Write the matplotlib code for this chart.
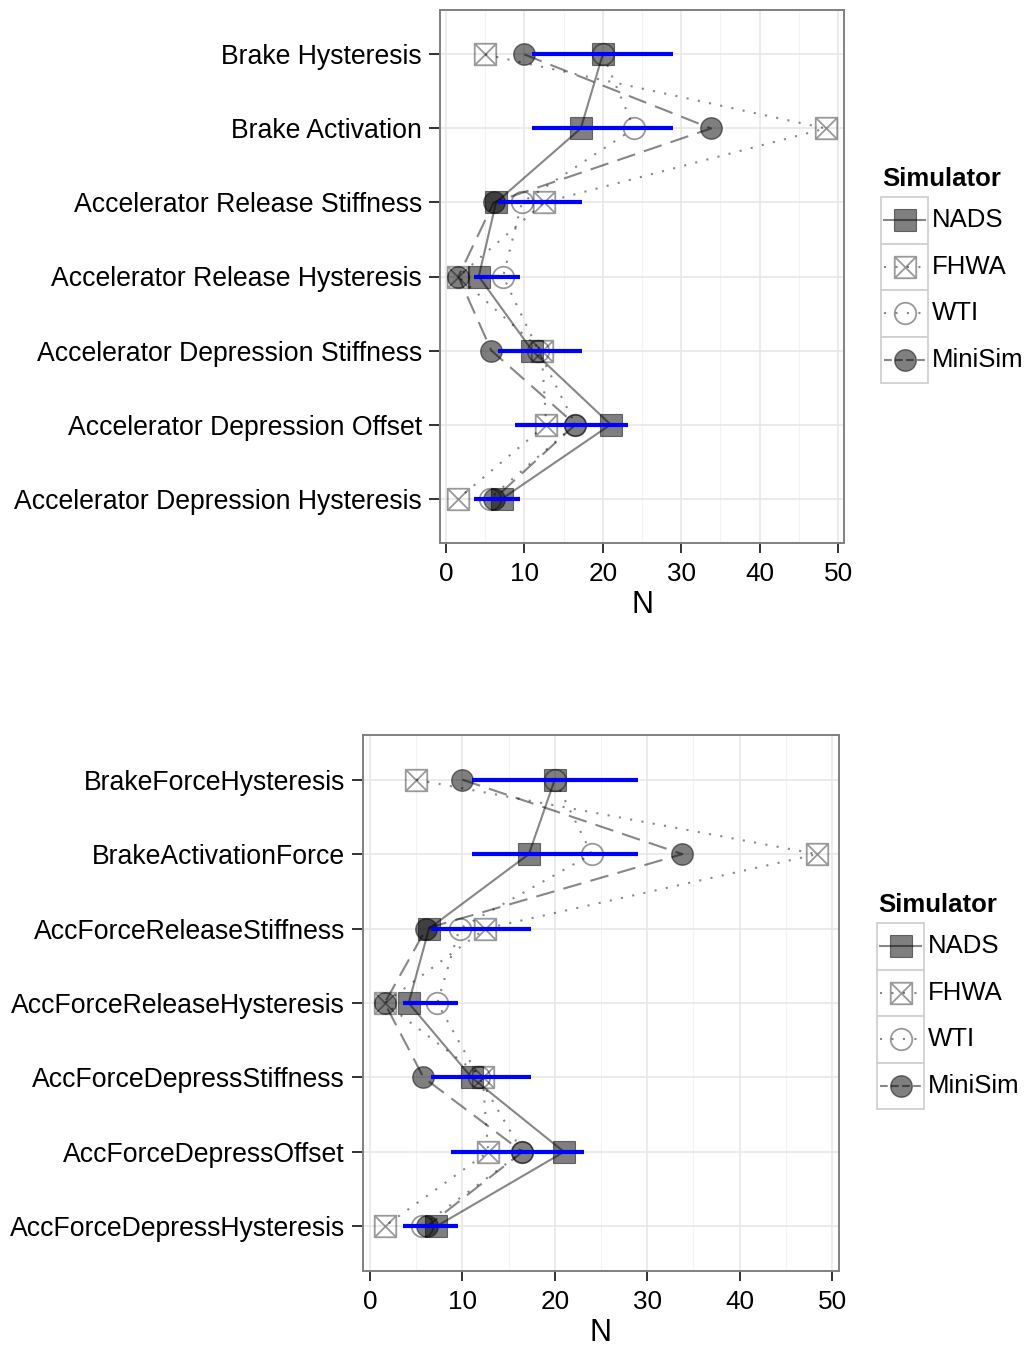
import numpy as np
import matplotlib
matplotlib.use("Agg")
import matplotlib.pyplot as plt
from matplotlib.lines import Line2D
from matplotlib.patches import Rectangle
from matplotlib.path import Path
from matplotlib.ticker import MultipleLocator

# ---- data ----
labels_top = [
    "Brake Hysteresis",
    "Brake Activation",
    "Accelerator Release Stiffness",
    "Accelerator Release Hysteresis",
    "Accelerator Depression Stiffness",
    "Accelerator Depression Offset",
    "Accelerator Depression Hysteresis",
]
labels_bottom = [
    "BrakeForceHysteresis",
    "BrakeActivationForce",
    "AccForceReleaseStiffness",
    "AccForceReleaseHysteresis",
    "AccForceDepressStiffness",
    "AccForceDepressOffset",
    "AccForceDepressHysteresis",
]
simulators = ["NADS", "FHWA", "WTI", "MiniSim"]
nads = [20.0, 17.2, 6.4, 4.2, 11.0, 21.0, 7.2]
fhwa = [5.0, 48.4, 12.5, 1.6, 12.2, 12.8, 1.6]
wti = [20.0, 24.0, 9.7, 7.3, 11.8, 16.5, 5.6]
minisim = [10.0, 33.8, 6.1, 1.6, 5.8, 16.5, 6.2]
range_lo = [11.0, 11.0, 6.6, 3.6, 6.6, 8.8, 3.6]
range_hi = [29.0, 29.0, 17.4, 9.5, 17.4, 23.2, 9.5]
x_ticks = [0, 10, 20, 30, 40, 50]

W, H = 1033, 1346

# square with a cross in it (ggplot shape 7)
sq_cross = Path(
    [(-0.5, -0.5), (0.5, -0.5), (0.5, 0.5), (-0.5, 0.5), (-0.5, -0.5),
     (-0.5, -0.5), (0.5, 0.5), (-0.5, 0.5), (0.5, -0.5)],
    [Path.MOVETO, Path.LINETO, Path.LINETO, Path.LINETO, Path.CLOSEPOLY,
     Path.MOVETO, Path.LINETO, Path.MOVETO, Path.LINETO],
)

LINE_C = (0, 0, 0, 0.47)
FILL_C = (0, 0, 0, 0.5)
OPEN_C = (0, 0, 0, 0.4)

styles = {
    "NADS": dict(ls="-", dashes=None, marker="s", mfc=FILL_C, mec=FILL_C, mew=0.8),
    "FHWA": dict(ls=":", dashes=(1, 4.5), marker=sq_cross, mfc="none", mec=OPEN_C, mew=1.3),
    "WTI": dict(ls=":", dashes=(1, 4.5), marker="o", mfc="none", mec=OPEN_C, mew=1.3),
    "MiniSim": dict(ls="--", dashes=(9, 4.5), marker="o", mfc=FILL_C, mec=FILL_C, mew=1.0),
}

plt.rcParams["font.family"] = ["Liberation Sans", "DejaVu Sans"]


def px_box(left, top, right, bottom):
    return [left / W, 1 - bottom / H, (right - left) / W, (bottom - top) / H]


def draw_panel(fig, rect, cat_labels):
    ax = fig.add_axes(rect)
    series = [nads, fhwa, wti, minisim]
    ypos = np.arange(len(cat_labels))

    # lines first, then points, then blue ranges on top
    for name, vals in zip(simulators, series):
        st = styles[name]
        ln, = ax.plot(vals, ypos, color=LINE_C, lw=1.5, ls=st["ls"], zorder=2)
        if st["dashes"] is not None:
            ln.set_dashes(st["dashes"])
    for name, vals in zip(simulators, series):
        st = styles[name]
        ax.plot(vals, ypos, ls="none", marker=st["marker"], ms=15.5,
                mfc=st["mfc"], mec=st["mec"], mew=st["mew"], zorder=3)
    ax.hlines(ypos, range_lo, range_hi, color="#0000ff", lw=3, zorder=4)

    allv = np.concatenate([nads, fhwa, wti, minisim, range_lo, range_hi])
    lo, hi = allv.min(), allv.max()
    pad = 0.05 * (hi - lo)
    ax.set_xlim(lo - pad, hi + pad)
    ax.set_ylim(len(cat_labels) - 0.4, -0.6)

    ax.set_xticks(x_ticks)
    ax.xaxis.set_minor_locator(MultipleLocator(5))
    ax.set_yticks(ypos)
    ax.set_yticklabels(cat_labels)
    ax.tick_params(axis="y", labelsize=19.2, length=8, width=1.3, pad=5, color="#222222")
    ax.tick_params(axis="x", which="major", labelsize=18.8, length=7.5, width=1.3,
                   pad=6, color="#222222")
    ax.tick_params(axis="x", which="minor", length=0)
    ax.set_xlabel("N", fontsize=22, labelpad=3)

    ax.grid(True, which="major", color="#e6e6e6", lw=1.1, zorder=0)
    ax.grid(True, which="minor", axis="x", color="#f3f3f3", lw=0.8, zorder=0)
    ax.set_axisbelow(True)
    for sp in ax.spines.values():
        sp.set_color("#808080")
        sp.set_linewidth(1.4)
    return ax


def draw_legend(fig, left, top):
    # hand-drawn ggplot-style legend, positions in pixels
    tf = fig.transFigure
    fig.text((left + 1) / W, 1 - top / H, "Simulator", transform=tf,
             fontsize=18.5, fontweight="bold", va="top", ha="left")
    key_w, key_h = 47, 46.5
    y0 = top + 30
    for i, name in enumerate(simulators):
        st = styles[name]
        ky = y0 + i * key_h
        fig.add_artist(Rectangle((left / W, 1 - (ky + key_h) / H), key_w / W, key_h / H,
                                 transform=tf, facecolor="white", edgecolor="#d0d0d0",
                                 lw=1.3, zorder=1))
        cy = 1 - (ky + key_h / 2) / H
        ln = Line2D([(left + 3) / W, (left + key_w - 3) / W], [cy, cy], transform=tf,
                    color=LINE_C, lw=1.5, ls=st["ls"], zorder=2)
        if st["dashes"] is not None and name != "MiniSim":
            ln.set_dashes(st["dashes"])
        fig.add_artist(ln)
        fig.add_artist(Line2D([(left + key_w / 2) / W], [cy], transform=tf, ls="none",
                              marker=st["marker"], ms=15.5, mfc=st["mfc"], mec=st["mec"],
                              mew=st["mew"], zorder=3))
        fig.text((left + key_w + 4) / W, cy, name, transform=tf, fontsize=18.5,
                 va="center", ha="left")


def main():
    fig = plt.figure(figsize=(W / 100, H / 100), dpi=100)
    fig.patch.set_facecolor("white")

    draw_panel(fig, px_box(440, 10, 844, 543), labels_top)
    draw_panel(fig, px_box(363, 735, 839, 1271), labels_bottom)

    draw_legend(fig, 881, 167)
    draw_legend(fig, 877, 893)

    fig.savefig("out.png", dpi=100)


if __name__ == "__main__":
    main()
